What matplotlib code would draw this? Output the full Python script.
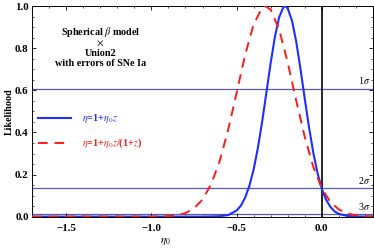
import numpy as np
import matplotlib.pyplot as plt

# eta = 1 + eta0 z  (blue)
eta0_blue = [-1.7, -0.7, -0.6, -0.55, -0.5, -0.475, -0.45, -0.425, -0.4, -0.375, -0.35, -0.325,
             -0.3, -0.275, -0.25, -0.225, -0.215, -0.2, -0.175, -0.15, -0.125, -0.1, -0.075,
             -0.05, -0.025, 0.0, 0.025, 0.05, 0.075, 0.1, 0.15, 0.2, 0.3]
like_blue = [0.0, 0.0, 0.002, 0.007, 0.029, 0.052, 0.090, 0.146, 0.224, 0.327, 0.451, 0.590,
             0.730, 0.855, 0.948, 0.996, 1.0, 0.990, 0.932, 0.832, 0.702, 0.561, 0.425,
             0.305, 0.207, 0.133, 0.081, 0.047, 0.025, 0.013, 0.003, 0.001, 0.0]

# eta = 1 + eta0 z/(1+z)  (red)
eta0_red = [-1.7, -1.0, -0.95, -0.9, -0.85, -0.8, -0.75, -0.7, -0.65, -0.6, -0.55, -0.5, -0.45,
            -0.4, -0.35, -0.33, -0.3, -0.25, -0.2, -0.15, -0.1, -0.05, 0.0, 0.05, 0.1, 0.15,
            0.2, 0.25, 0.3]
like_red = [0.0, 0.0003, 0.0009, 0.0026, 0.007, 0.017, 0.039, 0.081, 0.153, 0.262, 0.411, 0.588,
            0.768, 0.914, 0.993, 1.0, 0.984, 0.889, 0.733, 0.551, 0.379, 0.237, 0.135, 0.070,
            0.034, 0.015, 0.006, 0.002, 0.001]

sigma_levels = [0.6065, 0.1353, 0.0111]
sigma_labels = ['1$\\sigma$', '2$\\sigma$', '3$\\sigma$']

plt.rcParams['font.family'] = ['Liberation Serif', 'DejaVu Serif']
plt.rcParams['mathtext.fontset'] = 'stix'

fig = plt.figure(figsize=(3.74, 2.49), dpi=100)
ax = fig.add_axes([0.086, 0.13, 0.911, 0.845])

for lev in sigma_levels:
    ax.axhline(lev, color='#5a5ab4', lw=0.9, zorder=1)
ax.axvline(0.0, color='black', lw=1.2, zorder=2)

ax.plot(eta0_blue, like_blue, color='#1f2fff', lw=1.5, zorder=3)
ax.plot(eta0_red, like_red, color='#ff1a1a', lw=1.4, ls=(0, (5, 3.5)), zorder=3)

for lev, lab in zip(sigma_levels, sigma_labels):
    ax.text(0.285, lev + 0.012, lab, ha='right', va='bottom', fontsize=7.2)

fs = 7.3
ax.text(-1.3, 0.876, 'Spherical $\\beta$ model', ha='center', va='center',
        fontsize=fs, fontweight='bold')
ax.text(-1.3, 0.826, '$\\times$', ha='center', va='center', fontsize=fs)
ax.text(-1.3, 0.776, 'Union2', ha='center', va='center', fontsize=fs, fontweight='bold')
ax.text(-1.3, 0.728, 'with errors of SNe Ia', ha='center', va='center',
        fontsize=fs, fontweight='bold')

# legend drawn by hand
ax.plot([-1.665, -1.47], [0.467, 0.467], color='#1f2fff', lw=1.5)
ax.text(-1.41, 0.467, '$\\eta$=1+$\\eta_0 z$', color='#1f2fff', fontsize=fs,
        fontweight='bold', va='center')
ax.plot([-1.665, -1.47], [0.35, 0.35], color='#ff1a1a', lw=1.4, ls=(0, (5, 3.5)))
ax.text(-1.41, 0.35, '$\\eta$=1+$\\eta_0 z$/(1+$z$)', color='#ff1a1a', fontsize=fs,
        fontweight='bold', va='center')

ax.set_xlim(-1.7, 0.3)
ax.set_ylim(0, 1.0)
ax.set_xticks([-1.5, -1.0, -0.5, 0.0])
ax.set_xticklabels(['\u22121.5', '\u22121.0', '\u22120.5', '0.0'])
ax.set_yticks([0.0, 0.2, 0.4, 0.6, 0.8, 1.0])
ax.set_xticks(np.arange(-1.7, 0.31, 0.1), minor=True)
ax.set_yticks(np.arange(0, 1.01, 0.05), minor=True)
ax.tick_params(which='both', direction='in', top=True, right=True, labelsize=7.8)
ax.tick_params(which='major', length=3, width=0.6)
ax.tick_params(which='minor', length=1.6, width=0.5)
ax.tick_params(axis='x', pad=5)
ax.tick_params(axis='y', pad=2.5)
for lab in ax.get_xticklabels() + ax.get_yticklabels():
    lab.set_fontweight('bold')
for s in ax.spines.values():
    s.set_linewidth(0.7)

ax.set_ylabel('Likelihood', fontsize=7.3, fontweight='bold', labelpad=1)
ax.set_xlabel('$\\eta_0$', fontsize=8)
ax.xaxis.set_label_coords(0.39, -0.09)

fig.savefig('out.png', dpi=100)
